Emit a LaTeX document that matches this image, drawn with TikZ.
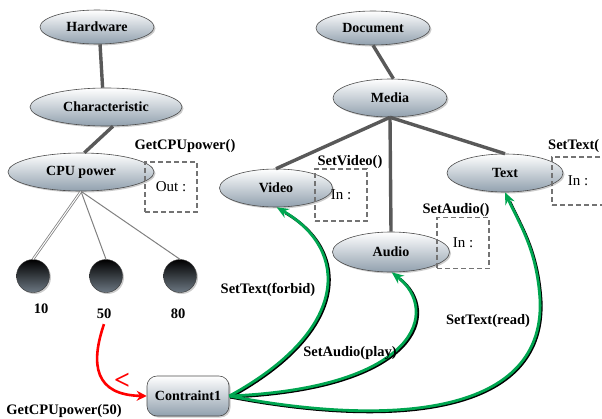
\documentclass[tikz,border=0pt]{standalone}
\usepackage{fontspec}
\setmainfont{Liberation Serif}
\usetikzlibrary{shapes.geometric,shadows,arrows.meta}
\definecolor{ellbot}{RGB}{145,160,174}
\definecolor{grn}{RGB}{0,166,81}
\begin{document}
\begin{tikzpicture}[x=1pt,y=-1pt,
 ell/.style={ellipse, draw=black!70, line width=0.6pt, top color=white, bottom color=ellbot, inner sep=0pt, font=\fontsize{14}{16}\selectfont\bfseries, drop shadow={shadow xshift=1.5pt, shadow yshift=-1.5pt, opacity=0.4}},
 ball/.style={circle, draw=black!80, top color=black, bottom color=black!25!ellbot, minimum size=33pt, inner sep=0pt, drop shadow={shadow xshift=1.5pt, shadow yshift=-1.5pt, opacity=0.4}},
 lbl/.style={font=\fontsize{14.5}{16}\selectfont\bfseries, inner sep=0pt},
 inbox/.style={draw=black!55, line width=1.3pt, dash pattern=on 5pt off 3pt, font=\fontsize{15}{17}\selectfont, inner sep=0pt, minimum width=52pt},
 link/.style={line width=3.4pt, draw=black!65},
 thinline/.style={draw=black!50, line width=1pt},
 garrow/.style={draw=grn, line width=2.8pt, -{Stealth[length=12pt,width=10pt]}, preaction={draw=black, line width=2.8pt, -, shorten >=9pt, transform canvas={xshift=1.1pt,yshift=-1.1pt}}},
]
\useasboundingbox (0,0) rectangle (602,418);

\node[ell, minimum width=114pt, minimum height=34pt] (hw) at (97,27) {Hardware};
\node[ell, minimum width=152pt, minimum height=38pt] (char) at (106,107) {Characteristic};
\node[ell, minimum width=146pt, minimum height=38pt] (cpu) at (81,172) {CPU power};
\node[ell, minimum width=114pt, minimum height=34pt] (doc) at (373,28) {Document};
\node[ell, minimum width=114pt, minimum height=38pt] (media) at (390,98) {Media};
\node[ell, minimum width=113pt, minimum height=38pt] (video) at (276,188) {Video};
\node[ell, minimum width=116pt, minimum height=38pt] (text) at (505,173) {Text};
\node[ell, minimum width=117pt, minimum height=40pt] (audio) at (391,252) {Audio};

\node[ball] (b10) at (33,276) {};
\node[ball] (b50) at (106,276) {};
\node[ball] (b80) at (180,276) {};

\draw[link] (hw.-80) -- (char.100);
\draw[link] (char.-70) -- (cpu.80);
\draw[link] (doc.south) -- (media.80);
\draw[link] (media.south) -- (video.north);
\draw[link] (media.south) -- (text.north);
\draw[link] (media.south) -- (audio.north);
\draw[thinline, double=white, double distance=1pt, line width=0.8pt] (cpu.south) -- (b10.north);
\draw[thinline] (cpu.south) -- (b50.north);
\draw[thinline] (cpu.south) -- (b80.north);

\node[inbox, minimum height=50pt] (outb) at (171,187) {Out :};
\node[inbox, minimum height=52pt] (vinb) at (341,195) {In :};
\node[inbox, minimum height=51pt] (ainb) at (463,243) {In :};
\node[inbox, minimum height=48pt] (tinb) at (578,181) {In :};

\node[lbl] (lgcpu) at (185,146) {GetCPUpower()};
\node[lbl] (lsv) at (350,162) {SetVideo()};
\node[lbl] (lsa) at (456,210) {SetAudio()};
\node[lbl, anchor=west] (lst) at (548,146) {SetText(};

\node[lbl] (l10) at (41,309) {10};
\node[lbl] (l50) at (104,314) {50};
\node[lbl] (l80) at (178,314) {80};

\node[rectangle, rounded corners=10pt, draw=black!70, line width=0.6pt, top color=white, bottom color=ellbot, minimum width=82pt, minimum height=40pt, font=\fontsize{14}{16}\selectfont\bfseries, inner sep=0pt, drop shadow={shadow xshift=1.5pt, shadow yshift=-1.5pt, opacity=0.4}] (ct) at (188,396) {Contraint1};

\node[lbl] (lgcpu50) at (64,411) {GetCPUpower(50)};
\node[font=\fontsize{28}{28}\selectfont\bfseries, text=red, inner sep=0pt] (lt) at (122,381) {<};

\draw[red, line width=2.6pt, -{Stealth[length=10pt,width=10pt]}] (l50.south) ++(0,5) coordinate (rs) (rs) .. controls (90,365) and (95,395) .. (ct.west);

\draw[garrow] (ct.east) .. controls (350,330) and (350,250) .. (video.-88);
\draw[garrow] (ct.east) .. controls (420,388) and (440,310) .. (audio.-88);
\draw[garrow] (ct.east) .. controls (380,425) and (545,420) .. (540,300) .. controls (537,250) and (520,225) .. (text.-90);

\node[lbl] (lstf) at (268,290) {SetText(forbid)};
\node[lbl] (lsap) at (350,353) {SetAudio(play)};
\node[lbl] (lstr) at (488,321) {SetText(read)};
\end{tikzpicture}
\end{document}
